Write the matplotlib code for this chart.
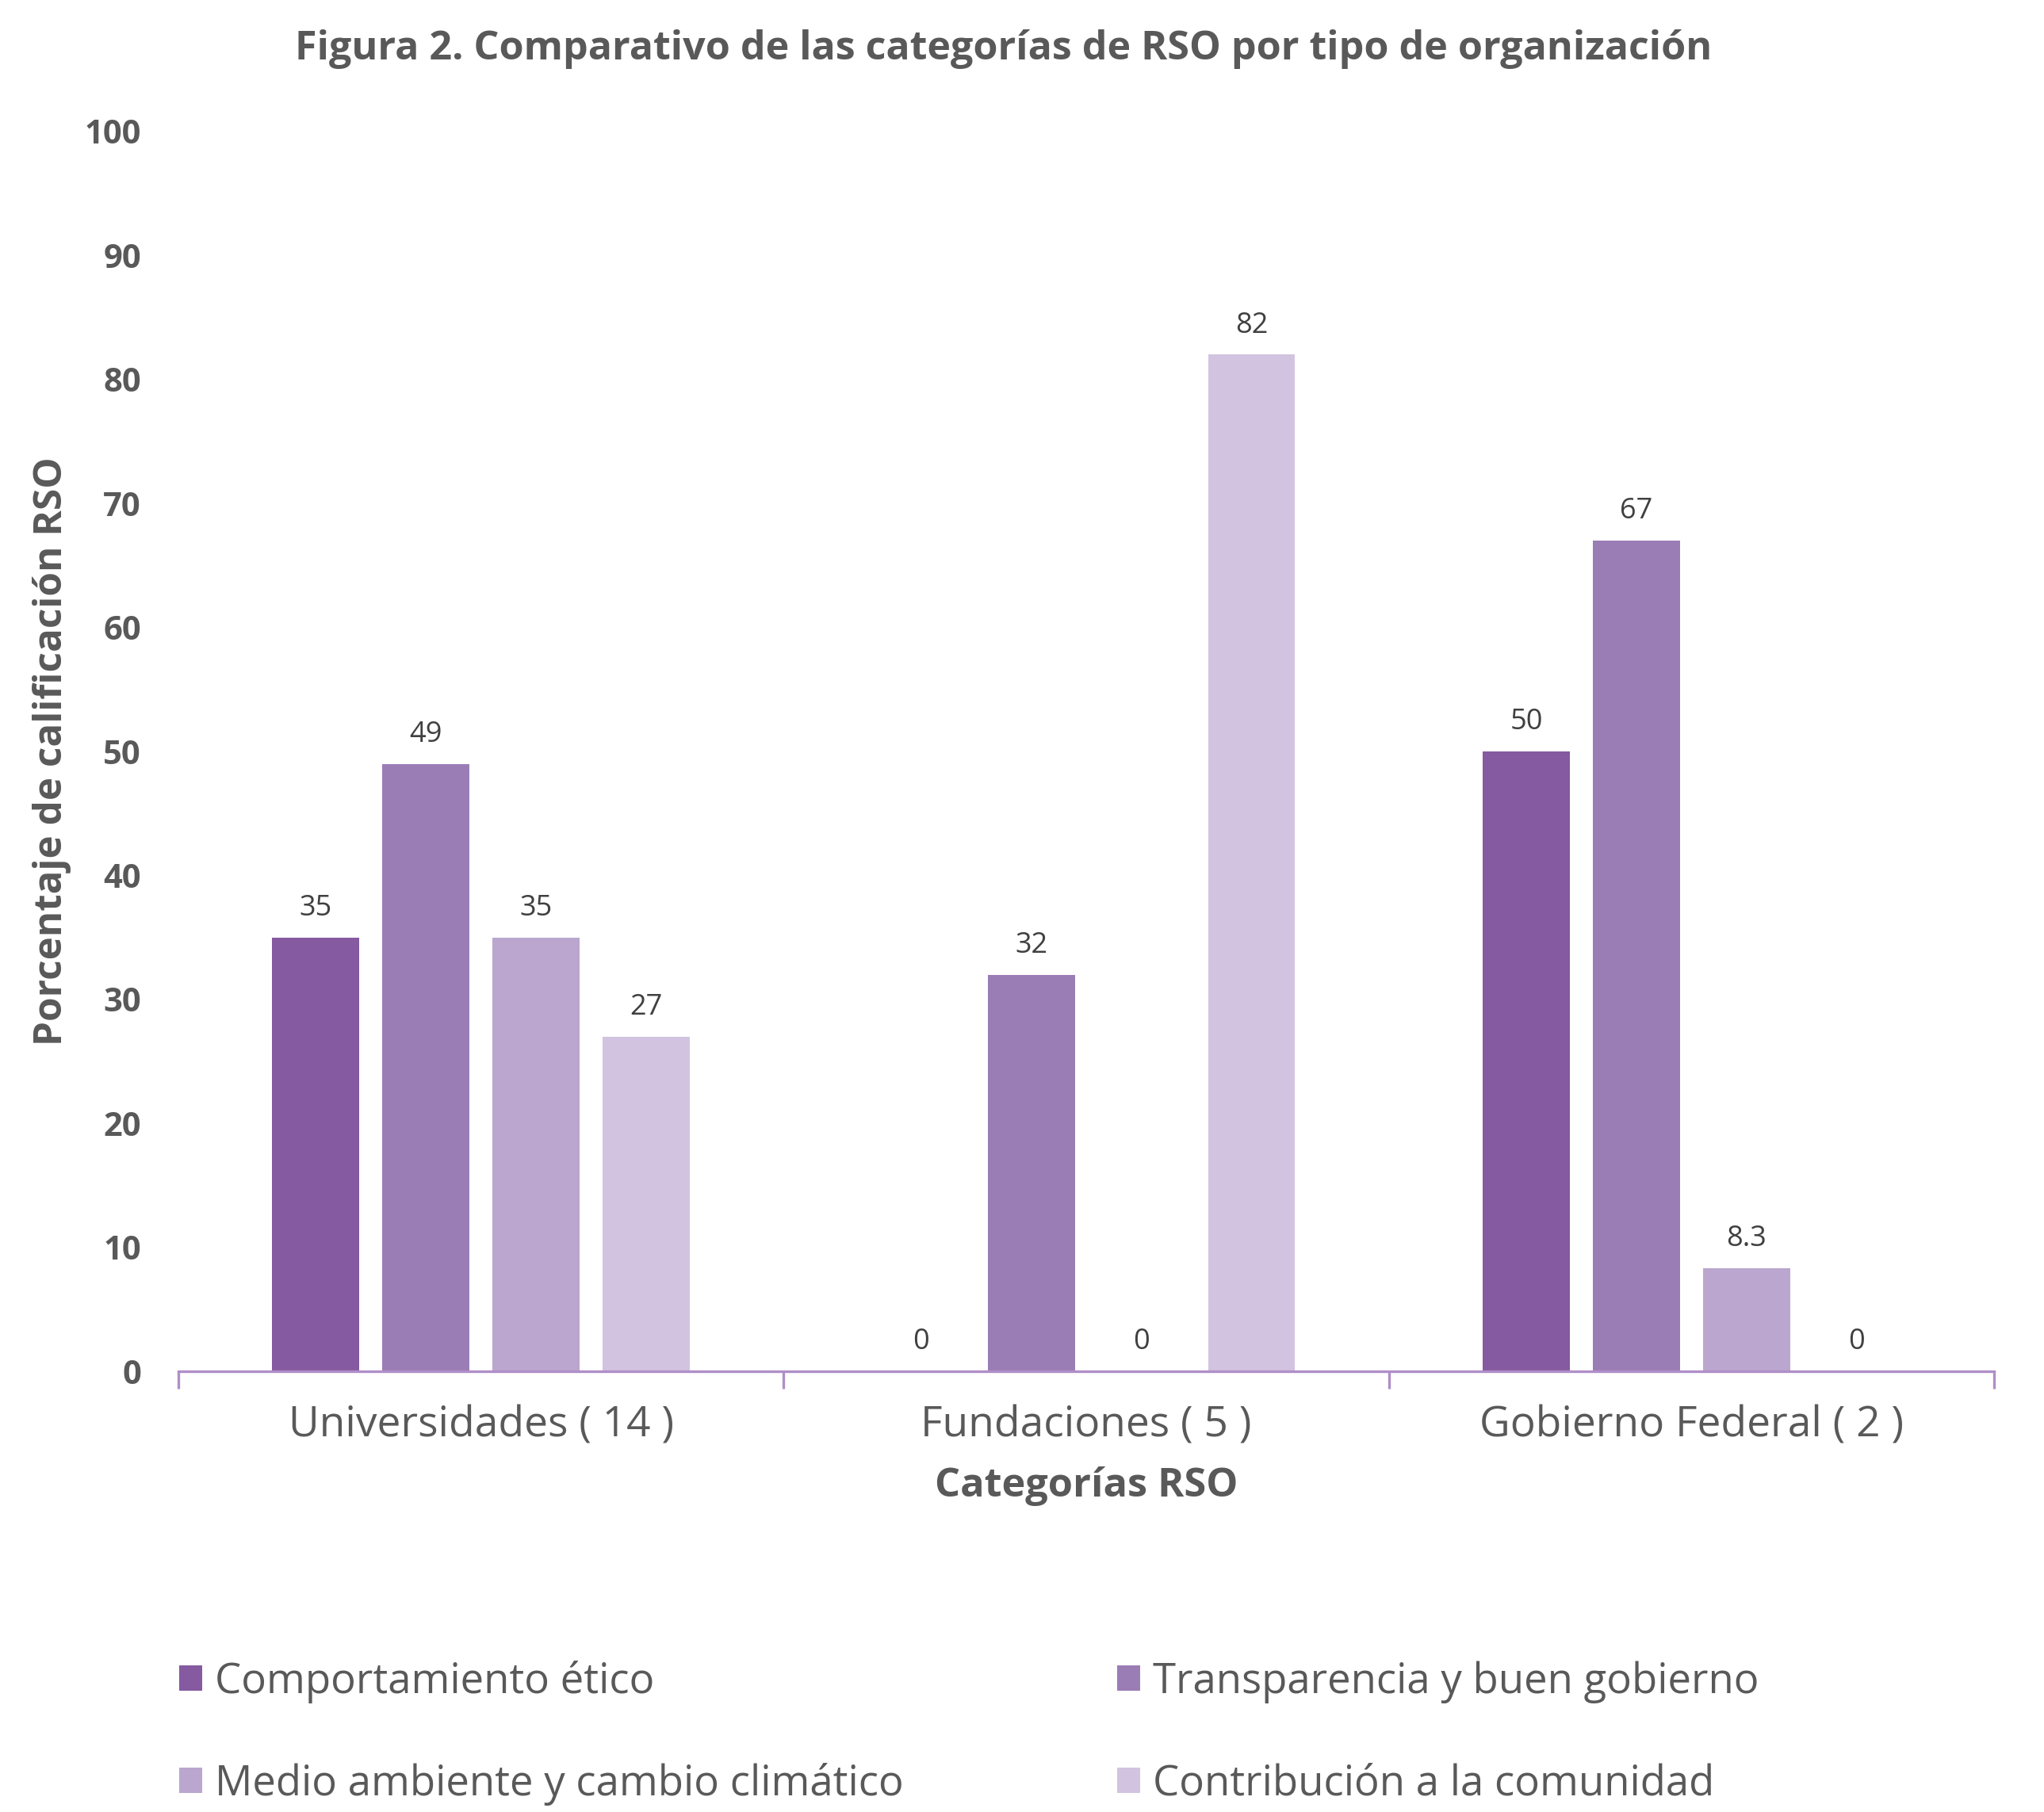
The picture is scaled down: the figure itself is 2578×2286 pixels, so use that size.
import numpy as np
import matplotlib.pyplot as plt
from matplotlib.patches import Patch

plt.rcParams['font.family'] = ['Open Sans', 'DejaVu Sans']

# data
organizaciones = ['Universidades ( 14 )', 'Fundaciones ( 5 )', 'Gobierno Federal ( 2 )']
series_names = ['Comportamiento ético', 'Transparencia y buen gobierno',
                'Medio ambiente y cambio climático', 'Contribución a la comunidad']
comportamiento = [35, 0, 50]
transparencia = [49, 32, 67]
medio_ambiente = [35, 0, 8.3]
contribucion = [27, 82, 0]

colors = ['#855AA0', '#9B7DB6', '#BAA6CE', '#D2C4E0']
text_gray = '#595959'
axis_purple = '#B08FC8'

fig = plt.figure(figsize=(12.89, 11.43), dpi=200)
ax = fig.add_axes([0.0873, 0.2432, 0.8883, 0.6842])

x = np.arange(len(organizaciones))
step = 0.182
width = 0.144
all_series = [comportamiento, transparencia, medio_ambiente, contribucion]
for i, vals in enumerate(all_series):
    pos = x + (i - 1.5) * step
    bars = ax.bar(pos, vals, width, color=colors[i], label=series_names[i])
    for b, v in zip(bars, vals):
        lbl = ('%g' % v)
        ax.text(b.get_x() + b.get_width() / 2, v + 1.2, lbl, ha='center', va='bottom',
                fontsize=13, color='#404040')

ax.set_xlim(-0.5, 2.5)
ax.set_ylim(0, 100)
ax.set_yticks(range(0, 101, 10))
for s in ['top', 'right', 'left']:
    ax.spines[s].set_visible(False)
ax.spines['bottom'].set_color(axis_purple)
ax.spines['bottom'].set_linewidth(1.2)
ax.tick_params(axis='y', length=0, labelsize=15, labelcolor=text_gray, pad=17)
for t in ax.get_yticklabels():
    t.set_fontweight('bold')

ax.set_xticks(x)
ax.set_xticklabels(organizaciones, fontsize=19.2, color=text_gray)
ax.tick_params(axis='x', length=0, pad=15)
ax.set_xticks([-0.5, 0.5, 1.5, 2.5], minor=True)
ax.tick_params(axis='x', which='minor', length=8, color=axis_purple, width=1.2)

ax.set_xlabel('Categorías RSO', fontsize=18.2, fontweight='bold', color=text_gray, labelpad=9)
ax.set_ylabel('Porcentaje de calificación RSO', fontsize=17.8, fontweight='bold', color=text_gray, labelpad=6)

fig.text(0.491, 0.973, 'Figura 2. Comparativo de las categorías de RSO por tipo de organización',
         ha='center', va='center', fontsize=18.1, fontweight='bold', color=text_gray)

# legend: column-major order so rows read across
order = [0, 2, 1, 3]
handles = [Patch(facecolor=colors[i], edgecolor='none') for i in order]
labels = [series_names[i] for i in order]
fig.legend(handles, labels, ncol=2, loc='upper left', bbox_to_anchor=(0.0795, 0.093),
           frameon=False, fontsize=19, labelcolor=text_gray, handlelength=0.55, handleheight=0.55,
           handletextpad=0.3, columnspacing=5.1, labelspacing=1.43, borderaxespad=0)

fig.savefig('out.png', dpi=200, facecolor='white')
